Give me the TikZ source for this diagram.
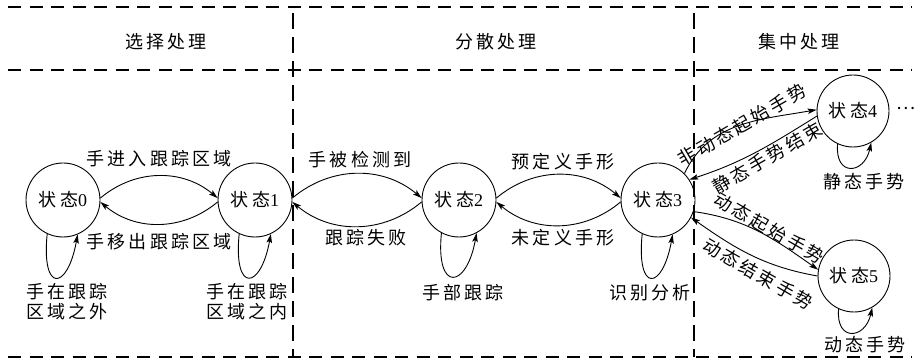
\documentclass[tikz,border=0pt]{standalone}
\usepackage{fontspec}
\setmainfont{Liberation Serif}
\newfontfamily\cjk{Noto Sans CJK SC}[LetterSpace=17]
\usetikzlibrary{arrows.meta}
\newcommand\lblfont{\fontsize{18}{20}\selectfont\cjk}
\begin{document}
\begin{tikzpicture}[x=1pt,y=-1pt,
  state/.style={draw, circle, line width=0.9pt, minimum size=74pt, inner sep=0pt, font=\lblfont},
  lbl/.style={font=\lblfont, inner sep=0pt, align=center},
  arr/.style={line width=0.9pt, -{Stealth[length=9pt,width=5.5pt,inset=2pt]}},
  sep/.style={line width=1.1pt, dash pattern=on 13pt off 8.5pt},
  vsep/.style={line width=1.1pt, dash pattern=on 16pt off 8pt}]
\useasboundingbox (0,0) rectangle (915,363);
% frame lines
\coordinate (tl) at (8,7);   \coordinate (tr) at (912,7);
\coordinate (ml) at (8,70);  \coordinate (mr) at (912,70);
\coordinate (bl) at (8,357); \coordinate (br) at (912,357);
\coordinate (v1t) at (293,13); \coordinate (v1b) at (293,357);
\coordinate (v2t) at (694,13); \coordinate (v2b) at (694,357);
\draw[sep] (tl) -- (tr);
\draw[sep] (ml) -- (mr);
\draw[sep] (bl) -- (br);
\draw[vsep] (v1t) -- (v1b);
\draw[vsep] (v2t) -- (v2b);
% headers
\node[lbl] (h1) at (166,42) {选择处理};
\node[lbl] (h2) at (496,42) {分散处理};
\node[lbl] (h3) at (799,42) {集中处理};
% states
\node[state] (s0) at (63,200) {状态{\rmfamily 0}};
\node[state] (s1) at (255,200) {状态{\rmfamily 1}};
\node[state] (s2) at (459,200) {状态{\rmfamily 2}};
\node[state] (s3) at (658,200) {状态{\rmfamily 3}};
\node[state, minimum size=72pt] (s4) at (853,111) {状态{\rmfamily 4}};
\node[state, minimum size=72pt] (s5) at (854,276) {状态{\rmfamily 5}};
\node[lbl] (dots) at (906,108) {…};
% horizontal transitions
\draw[arr] (s0.3) to[out=40,in=140] (s1.177);
\draw[arr] (s1.183) to[out=220,in=-40] (s0.-3);
\draw[arr] (s1.3) to[out=40,in=140] (s2.177);
\draw[arr] (s2.183) to[out=220,in=-40] (s1.-3);
\draw[arr] (s2.3) to[out=40,in=140] (s3.177);
\draw[arr] (s3.183) to[out=220,in=-40] (s2.-3);
\node[lbl] (e01) at (159,159) {手进入跟踪区域};
\node[lbl] (e10) at (159,242) {手移出跟踪区域};
\node[lbl] (e12) at (360,160) {手被检测到};
\node[lbl] (e21) at (366,238) {跟踪失败};
\node[lbl] (e23) at (563,162) {预定义手形};
\node[lbl] (e32) at (563,238) {未定义手形};
% self loops
\draw[arr] (s0.245) .. controls +(-6,60) and +(-10,56) .. (s0.293);
\draw[arr] (s1.245) .. controls +(-6,60) and +(-10,56) .. (s1.295);
\draw[arr] (s2.242) .. controls +(-6,60) and +(-10,56) .. (s2.298);
\draw[arr] (s3.245) .. controls +(-6,60) and +(-10,56) .. (s3.293);
\draw[arr] (s4.245) .. controls +(-3,33) and +(-7,32) .. (s4.300);
\draw[arr] (s5.245) .. controls +(-3,33) and +(-7,32) .. (s5.300);
\node[lbl] (l0) at (67,302) {手在跟踪\\区域之外};
\node[lbl] (l1) at (247,302) {手在跟踪\\区域之内};
\node[lbl] (l2) at (463,293) {手部跟踪};
\node[lbl] (l3) at (650,293) {识别分析};
\node[lbl] (l4) at (864,182) {静态手势};
\node[lbl] (l5) at (865,345) {动态手势};
% diagonal transitions
\draw[arr] (s3.45) to[out=65,in=190] (s4.178);
\draw[arr] (s4.188) to[out=212,in=18] (s3.33);
\draw[arr] (s3.-18) to[out=-8,in=145] (s5.170);
\draw[arr] (s5.180) to[out=170,in=-35] (s3.-28);
\node[lbl, rotate=30] (e34) at (742,125) {非动态起始手势};
\node[lbl, rotate=30] (e43) at (767,158) {静态手势结束};
\node[lbl, rotate=-30] (e35) at (769,228) {动态起始手势};
\node[lbl, rotate=-30] (e53) at (758,274) {动态结束手势};
\end{tikzpicture}
\end{document}
